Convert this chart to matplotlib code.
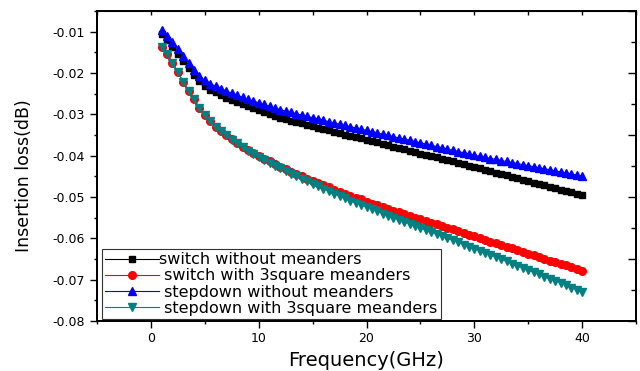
import numpy as np
import matplotlib
matplotlib.use("Agg")
import matplotlib.pyplot as plt
from matplotlib.ticker import MultipleLocator, FormatStrFormatter

plt.rcParams['font.family'] = 'DejaVu Sans'
plt.rcParams['axes.unicode_minus'] = False

# frequency sweep, 1 to 40 GHz in 0.5 GHz steps
freq = np.arange(1.0, 40.01, 0.5)

# insertion loss (dB)
sw_plain = [
    -0.0105, -0.0121, -0.0137, -0.0153, -0.0170, -0.0187, -0.0204, -0.0219, -0.0231, -0.0240,
    -0.0247, -0.0254, -0.0260, -0.0265, -0.0270, -0.0275, -0.0280, -0.0285, -0.0290, -0.0295,
    -0.0300, -0.0305, -0.0309, -0.0312, -0.0316, -0.0319, -0.0322, -0.0326, -0.0329, -0.0332,
    -0.0335, -0.0339, -0.0342, -0.0345, -0.0349, -0.0352, -0.0355, -0.0358, -0.0362, -0.0365,
    -0.0368, -0.0372, -0.0375, -0.0378, -0.0381, -0.0385, -0.0388, -0.0391, -0.0395, -0.0398,
    -0.0401, -0.0404, -0.0408, -0.0411, -0.0414, -0.0418, -0.0421, -0.0424, -0.0428, -0.0431,
    -0.0434, -0.0438, -0.0441, -0.0445, -0.0448, -0.0451, -0.0455, -0.0458, -0.0462, -0.0465,
    -0.0468, -0.0472, -0.0475, -0.0479, -0.0482, -0.0485, -0.0489, -0.0492, -0.0495]

sw_meander = [
    -0.0136, -0.0154, -0.0175, -0.0198, -0.0221, -0.0243, -0.0264, -0.0284, -0.0302, -0.0317,
    -0.0330, -0.0341, -0.0351, -0.0360, -0.0369, -0.0378, -0.0387, -0.0394, -0.0401, -0.0408,
    -0.0414, -0.0421, -0.0427, -0.0433, -0.0439, -0.0445, -0.0450, -0.0456, -0.0461, -0.0466,
    -0.0472, -0.0477, -0.0483, -0.0487, -0.0492, -0.0498, -0.0502, -0.0506, -0.0511, -0.0516,
    -0.0520, -0.0524, -0.0528, -0.0533, -0.0537, -0.0541, -0.0545, -0.0550, -0.0554, -0.0558,
    -0.0562, -0.0566, -0.0570, -0.0574, -0.0578, -0.0583, -0.0587, -0.0591, -0.0595, -0.0599,
    -0.0603, -0.0608, -0.0612, -0.0616, -0.0620, -0.0624, -0.0629, -0.0633, -0.0637, -0.0641,
    -0.0645, -0.0650, -0.0654, -0.0658, -0.0662, -0.0665, -0.0670, -0.0674, -0.0678]

sd_plain = [
    -0.0095, -0.0110, -0.0126, -0.0142, -0.0159, -0.0176, -0.0192, -0.0207, -0.0218, -0.0226,
    -0.0232, -0.0238, -0.0244, -0.0249, -0.0254, -0.0259, -0.0264, -0.0268, -0.0272, -0.0276,
    -0.0281, -0.0285, -0.0289, -0.0292, -0.0295, -0.0299, -0.0302, -0.0305, -0.0308, -0.0311,
    -0.0314, -0.0318, -0.0321, -0.0324, -0.0327, -0.0330, -0.0333, -0.0336, -0.0339, -0.0342,
    -0.0345, -0.0348, -0.0351, -0.0354, -0.0357, -0.0360, -0.0363, -0.0366, -0.0369, -0.0372,
    -0.0375, -0.0378, -0.0381, -0.0384, -0.0387, -0.0390, -0.0393, -0.0396, -0.0399, -0.0402,
    -0.0404, -0.0407, -0.0409, -0.0412, -0.0414, -0.0417, -0.0419, -0.0422, -0.0424, -0.0427,
    -0.0429, -0.0432, -0.0434, -0.0437, -0.0439, -0.0442, -0.0444, -0.0447, -0.0449]

sd_meander = [
    -0.0136, -0.0154, -0.0175, -0.0198, -0.0221, -0.0243, -0.0264, -0.0284, -0.0302, -0.0317,
    -0.0330, -0.0341, -0.0351, -0.0361, -0.0370, -0.0379, -0.0388, -0.0396, -0.0403, -0.0410,
    -0.0417, -0.0424, -0.0431, -0.0437, -0.0444, -0.0450, -0.0456, -0.0462, -0.0468, -0.0474,
    -0.0480, -0.0486, -0.0492, -0.0497, -0.0503, -0.0509, -0.0514, -0.0519, -0.0525, -0.0530,
    -0.0535, -0.0540, -0.0545, -0.0550, -0.0555, -0.0560, -0.0565, -0.0570, -0.0575, -0.0580,
    -0.0585, -0.0590, -0.0595, -0.0600, -0.0605, -0.0610, -0.0615, -0.0620, -0.0625, -0.0630,
    -0.0635, -0.0641, -0.0646, -0.0651, -0.0656, -0.0661, -0.0667, -0.0672, -0.0677, -0.0682,
    -0.0687, -0.0693, -0.0698, -0.0703, -0.0708, -0.0713, -0.0719, -0.0724, -0.0729]

labels = ['switch without meanders', ' switch with 3square meanders',
          ' stepdown without meanders', ' stepdown with 3square meanders']

fig = plt.figure(figsize=(6.4, 3.71), dpi=100)
ax = fig.add_axes([0.1516, 0.1348, 0.8422, 0.8356])

ax.plot(freq, sw_plain, color='black', marker='s', ms=5, lw=0.8, label=labels[0])
ax.plot(freq, sw_meander, color='red', marker='o', ms=5.5, lw=0.8, label=labels[1])
ax.plot(freq, sd_plain, color='blue', marker='^', ms=6, lw=0.8, label=labels[2])
ax.plot(freq, sd_meander, color='#008080', marker='v', ms=6, lw=0.8, label=labels[3])

ax.set_xlim(-5, 45)
ax.set_ylim(-0.08, -0.005)
ax.xaxis.set_major_locator(MultipleLocator(10))
ax.xaxis.set_minor_locator(MultipleLocator(5))
ax.yaxis.set_major_locator(MultipleLocator(0.01))
ax.yaxis.set_minor_locator(MultipleLocator(0.005))
ax.yaxis.set_major_formatter(FormatStrFormatter('%.2f'))
ax.tick_params(which='major', direction='out', length=5, width=1, labelsize=9)
ax.tick_params(which='minor', direction='out', length=2.5, width=1)
ax.tick_params(axis='x', pad=3)
for s in ax.spines.values():
    s.set_linewidth(1.3)

# mirrored ticks, pointing in, on top and right
top = ax.secondary_xaxis('top')
top.set_xticks(np.arange(-5, 46, 5))
top.tick_params(direction='in', length=3, width=1, labeltop=False)
right = ax.twinx()
right.set_ylim(0, 10)
right.yaxis.set_major_locator(MultipleLocator(2))
right.yaxis.set_minor_locator(MultipleLocator(1))
right.tick_params(which='major', direction='in', length=6, width=1, labelright=False)
right.tick_params(which='minor', direction='in', length=3.5, width=1)
for s in right.spines.values():
    s.set_linewidth(1.3)

ax.set_xlabel('Frequency(GHz)', fontsize=14, labelpad=4)
ax.set_ylabel('Insertion loss(dB)', fontsize=12.5)
ax.yaxis.set_label_coords(-0.118, 0.47)

leg = ax.legend(loc='lower left', bbox_to_anchor=(0.009, 0.006), borderaxespad=0,
                fancybox=False, edgecolor='#333333', framealpha=1, fontsize=11.5,
                handlelength=3.4, handletextpad=0.0, labelspacing=0.08, borderpad=0.2)
leg.get_frame().set_linewidth(0.8)

fig.savefig('out.png', dpi=100)
